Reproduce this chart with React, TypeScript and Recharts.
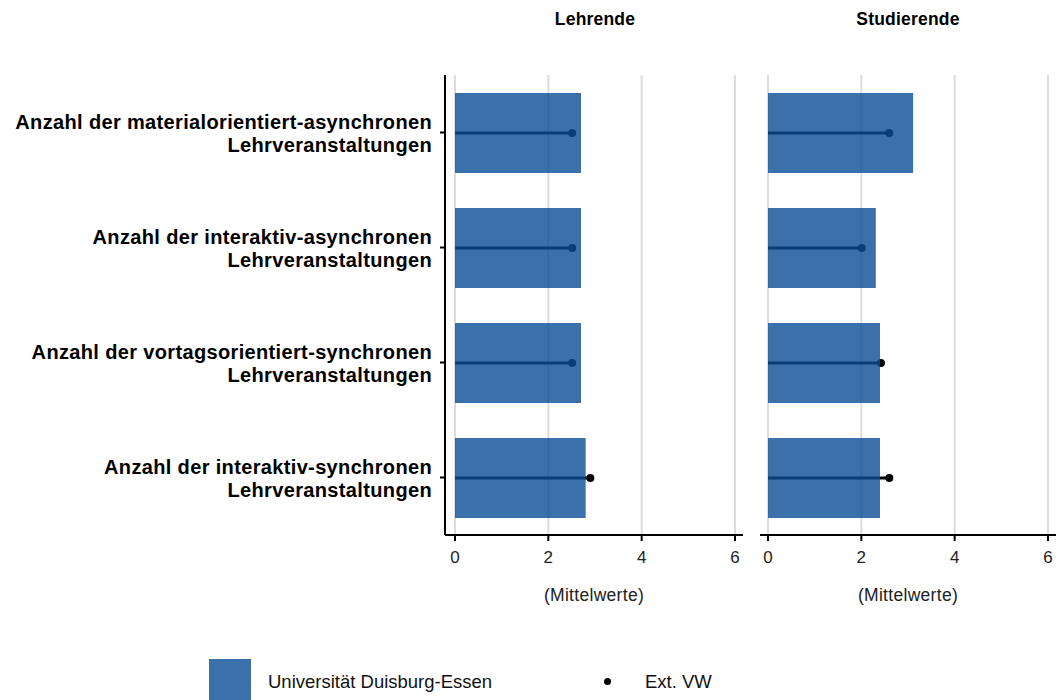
import React from 'react';
import {
  ComposedChart,
  Bar,
  XAxis,
  YAxis,
  CartesianGrid,
  Label,
} from 'recharts';

// Kategorien (von oben nach unten)
const categories = [
  'Anzahl der materialorientiert-asynchronen Lehrveranstaltungen',
  'Anzahl der interaktiv-asynchronen Lehrveranstaltungen',
  'Anzahl der vortagsorientiert-synchronen Lehrveranstaltungen',
  'Anzahl der interaktiv-synchronen Lehrveranstaltungen',
];

// Mittelwerte Universität Duisburg-Essen
const lehrendeUDE = [2.7, 2.7, 2.7, 2.8];
const studierendeUDE = [3.11, 2.31, 2.4, 2.4];

// Mittelwerte Ext. VW
const lehrendeExt = [2.51, 2.51, 2.51, 2.9];
const studierendeExt = [2.6, 2.01, 2.42, 2.6];

const xTicks = [0, 2, 4, 6];
const panelTitles = ['Lehrende', 'Studierende'];
const axisTitle = '(Mittelwerte)';
const legendLabels = ['Universität Duisburg-Essen', 'Ext. VW'];

const font = '"Liberation Sans", Arial, sans-serif';
const barColor = '#0a4e95';
const barOpacity = 0.8;
const legendBlue = '#3b71aa';

const buildRows = (ude: number[], ext: number[]) =>
  categories.map((name, i) => ({ name, ude: ude[i], ext: ext[i] }));

const lehrendeData = buildRows(lehrendeUDE, lehrendeExt);
const studierendeData = buildRows(studierendeUDE, studierendeExt);

// zweizeilige, fette Kategorienbeschriftung
const CategoryTick = (props: any) => {
  const { x, y, payload } = props;
  const text: string = payload.value;
  const cut = text.lastIndexOf(' ');
  return (
    <text
      x={x}
      y={y}
      textAnchor="end"
      fontFamily={font}
      fontWeight="bold"
      fontSize={20}
      letterSpacing={0.35}
      fill="#000"
    >
      <tspan x={x} dy={-3.5}>{text.slice(0, cut)}</tspan>
      <tspan x={x} dy={23}>{text.slice(cut + 1)}</tspan>
    </text>
  );
};

// Linie von 0 bis zum Ext.-Wert mit Punkt am Ende
const LollipopShape = (props: any) => {
  const { x, y, width, height } = props;
  const cy = y + height / 2;
  return (
    <g>
      <line x1={x} y1={cy} x2={x + width} y2={cy} stroke="#000" strokeWidth={3} />
      <circle cx={x + width} cy={cy} r={4} fill="#000" />
    </g>
  );
};

const Panel = ({ data, showAxis, width, right }: { data: any[]; showAxis: boolean; width: number; right: number }) => (
  <ComposedChart
    layout="vertical"
    width={width}
    height={700}
    data={data}
    margin={{ top: 75, right, bottom: 135, left: 0 }}
  >
    <CartesianGrid horizontal={false} stroke="#dcdcdc" strokeWidth={2} syncWithTicks />
    <XAxis
      type="number"
      domain={[0, 6]}
      ticks={xTicks}
      padding={{ left: showAxis ? 10 : 8, right: 8 }}
      axisLine={{ stroke: '#000', strokeWidth: 2 }}
      tickLine={{ stroke: '#000', strokeWidth: 2 }}
      tickSize={6}
      tickMargin={10}
      tick={{ fill: '#222', fontSize: 17, fontFamily: font }}
      height={30}
    >
      <Label
        value={axisTitle}
        position="bottom"
        offset={24}
        fill="#222"
        fontSize={17.5}
        letterSpacing={0.3}
        fontFamily={font}
      />
    </XAxis>
    <YAxis
      yAxisId="main"
      type="category"
      dataKey="name"
      hide={!showAxis}
      width={445}
      axisLine={{ stroke: '#000', strokeWidth: 2 }}
      tickLine={{ stroke: '#000', strokeWidth: 2 }}
      tickSize={5}
      tickMargin={8}
      tick={<CategoryTick />}
      interval={0}
    />
    <YAxis yAxisId="ext" type="category" dataKey="name" hide width={0} />
    <Bar yAxisId="ext" dataKey="ext" barSize={80} shape={<LollipopShape />} isAnimationActive={false} />
    <Bar
      yAxisId="main"
      dataKey="ude"
      barSize={80}
      fill={barColor}
      fillOpacity={barOpacity}
      isAnimationActive={false}
    />
  </ComposedChart>
);

export default function App() {
  const titleStyle: React.CSSProperties = {
    position: 'absolute',
    top: 9,
    width: 200,
    textAlign: 'center',
    fontFamily: font,
    fontWeight: 'bold',
    fontSize: 17.5,
    letterSpacing: 0.2,
    color: '#000',
  };
  const legendText: React.CSSProperties = {
    position: 'absolute',
    top: 671,
    fontFamily: font,
    fontSize: 18.5,
    color: '#111',
    whiteSpace: 'nowrap',
  };
  return (
    <div style={{ position: 'absolute', left: 0, top: 0, width: 1060, height: 700, background: '#fff', overflow: 'hidden' }}>
      <div style={{ ...titleStyle, left: 595 - 100 }}>{panelTitles[0]}</div>
      <div style={{ ...titleStyle, left: 908 - 100 }}>{panelTitles[1]}</div>

      <div style={{ position: 'absolute', left: 0, top: 0 }}>
        <Panel data={lehrendeData} showAxis={true} width={750} right={7} />
      </div>
      <div style={{ position: 'absolute', left: 760, top: 0 }}>
        <Panel data={studierendeData} showAxis={false} width={300} right={4} />
      </div>

      {/* Legende */}
      <div style={{ position: 'absolute', left: 209, top: 659, width: 42, height: 41, background: legendBlue }} />
      <div style={{ ...legendText, left: 268 }}>{legendLabels[0]}</div>
      <div style={{ position: 'absolute', left: 603.5, top: 677.5, width: 7, height: 7, borderRadius: '50%', background: '#000' }} />
      <div style={{ ...legendText, left: 645 }}>{legendLabels[1]}</div>
    </div>
  );
}
